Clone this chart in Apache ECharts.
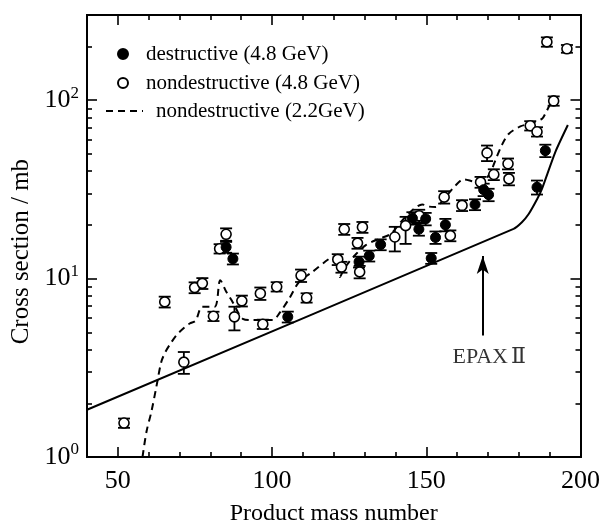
<!DOCTYPE html>
<html><head><meta charset="utf-8">
<script src="https://cdn.jsdelivr.net/npm/echarts@6/dist/echarts.min.js"></script>
<style>html,body{margin:0;padding:0;background:#fff}#c{width:603px;height:531px}</style>
</head><body><div id="c"></div>
<script>
// ---- axis ticks ----
const xMajorTicks = [50, 100, 150, 200];
const xMinorTicks = [60, 70, 80, 90, 110, 120, 130, 140, 160, 170, 180, 190];
const yMajorTicks = [1, 10, 100];
const yMinorTicks = [2, 3, 4, 5, 6, 7, 8, 9, 20, 30, 40, 50, 60, 70, 80, 90, 200, 300];

// ---- nondestructive (4.8 GeV), open circles ----
const ndMass  = [52, 65.2, 71.4, 74.9, 77.4, 81.0, 83.0, 85.1, 87.8, 90.2, 96.2, 97.0, 101.5, 109.4, 111.2, 121.3, 122.5, 123.4, 127.7, 128.4, 129.3, 139.8, 143.3, 147.7, 155.8, 157.8, 161.6, 167.6, 169.7, 171.9, 176.5, 176.8, 183.7, 185.9, 189.1, 191.3, 195.6];
const ndSigma = [1.55, 7.4, 3.4, 8.9, 9.4, 6.15, 14.7, 17.7, 6.1, 7.5, 8.25, 5.55, 9.0, 10.4, 7.8, 12.8, 11.6, 18.9, 15.8, 10.9, 19.4, 17.1, 19.8, 22.5, 28.6, 17.4, 25.7, 34.7, 50.6, 38.3, 44.0, 36.2, 71.9, 66.5, 212, 99, 194];
const ndErrUp = [6, 7, 14, 7, 7, 6, 6, 8, 14, 7, 8, 6, 6, 8, 6, 7, 7, 7, 7, 8, 7, 14, 12, 8, 8, 7, 7, 7, 10, 7, 7, 8, 6, 6, 6, 6, 5];
const ndErrDn = [6, 7, 14, 7, 7, 6, 6, 8, 16, 7, 8, 6, 6, 8, 6, 7, 7, 7, 7, 8, 7, 17, 21, 8, 8, 7, 7, 7, 10, 7, 7, 8, 6, 6, 6, 6, 5];

// ---- destructive (4.8 GeV), filled circles ----
const deMass  = [85.1, 87.3, 105.1, 128.2, 131.5, 135.2, 145.5, 147.6, 149.8, 151.6, 153.0, 156.2, 165.8, 168.6, 170.2, 185.9, 188.6];
const deSigma = [15.0, 12.9, 6.1, 12.4, 13.4, 15.5, 21.8, 18.9, 21.6, 13.0, 17.0, 20.0, 26.0, 31.5, 29.5, 32.5, 52.1];
const deErrUp = [7, 7, 7, 7, 7, 7, 8, 8, 8, 7, 8, 8, 7, 8, 8, 9, 8];
const deErrDn = [7, 7, 7, 7, 7, 7, 8, 8, 8, 7, 8, 8, 7, 8, 8, 9, 8];

// ---- nondestructive (2.2 GeV), dashed curve ----
const nd22Mass  = [58.0, 59.3, 60.9, 62.5, 64.1, 65.5, 67.0, 69.0, 71.5, 73.3, 75.2, 77.4, 81.4, 83.2, 85.2, 87.2, 88.9, 90.5, 93.7, 100.2, 102.4, 105.6, 108.8, 113.1, 118.5, 120.6, 121.5, 122.0, 123.2, 125.0, 127.0, 130.4, 134.7, 138.5, 142.0, 146.0, 148.7, 151.0, 153.0, 156.2, 159.5, 162.2, 165.4, 168.1, 170.8, 172.4, 174.5, 176.7, 180.5, 183.2, 187.5, 188.6, 190.2, 191.3];
const nd22Sigma = [1.0, 1.39, 1.8, 2.48, 3.42, 3.9, 4.3, 4.82, 5.3, 5.6, 5.8, 6.95, 6.95, 9.8, 8.4, 7.4, 6.5, 5.95, 5.85, 5.85, 6.4, 7.75, 9.6, 10.9, 12.9, 13.3, 12.2, 10.2, 11.2, 12.4, 13.6, 15.4, 16.7, 17.8, 21.0, 24.6, 26.0, 25.3, 25.2, 28.6, 33.3, 36.0, 35.0, 34.7, 39.5, 46.0, 56.0, 64.6, 71.3, 73.5, 78.5, 84.0, 95.0, 100];

// ---- EPAX II, solid curve ----
const epaxMass  = [40, 178.3, 181.0, 183.2, 186.0, 187.5, 191.8, 195.9];
const epaxSigma = [1.84, 19.0, 20.7, 23.0, 28.0, 31.8, 51.0, 72.5];

// ---- annotation ----
const arrowMass = 168.3, arrowFrom = 4.8, arrowTo = 13.4;
const epaxLabelMass = 170.4, epaxLabelSigma = 3.62;

const FONT = 'Liberation Serif';
const pair = (a, b) => a.map((v, i) => [v, b[i]]);
const errData = (m, s, up, dn) => m.map((v, i) => [v, s[i] * (1 - dn[i] / 100), s[i] * (1 + up[i] / 100)]);

function errRender(params, api) {
  const x = api.value(0);
  const pLo = api.coord([x, api.value(1)]);
  const pHi = api.coord([x, api.value(2)]);
  const hw = 6;
  const style = { stroke: '#000', lineWidth: 1.8 };
  return { type: 'group', children: [
    { type: 'line', shape: { x1: pLo[0], y1: pLo[1], x2: pHi[0], y2: pHi[1] }, style },
    { type: 'line', shape: { x1: pLo[0] - hw, y1: pLo[1], x2: pLo[0] + hw, y2: pLo[1] }, style },
    { type: 'line', shape: { x1: pHi[0] - hw, y1: pHi[1], x2: pHi[0] + hw, y2: pHi[1] }, style }
  ]};
}

const lineBlack = { show: true, onZero: false, lineStyle: { color: '#000', width: 2 } };
function xAx(pos, ticks, len, labels) {
  return {
    type: 'value', position: pos, min: 40, max: 200, gridIndex: 0,
    axisLine: lineBlack, splitLine: { show: false },
    axisTick: { show: true, inside: true, length: len, customValues: ticks, lineStyle: { color: '#000', width: 1.6 } },
    axisLabel: labels ? { show: true, customValues: xMajorTicks, fontFamily: FONT, fontSize: 26, color: '#000', margin: 11 } : { show: false },
    name: labels ? 'Product mass number' : '', nameLocation: 'middle', nameGap: 45,
    nameTextStyle: { fontFamily: FONT, fontSize: 24, color: '#000' }
  };
}
function yAx(pos, ticks, len, labels) {
  return {
    type: 'log', position: pos, min: 1, max: 300, logBase: 10, gridIndex: 0,
    axisLine: lineBlack, splitLine: { show: false },
    axisTick: { show: true, inside: true, length: len, customValues: ticks, lineStyle: { color: '#000', width: 1.6 } },
    axisLabel: labels ? {
      show: true, customValues: yMajorTicks, margin: 8,
      formatter: v => '{b|10}{s|' + Math.round(Math.log10(v)) + '}',
      rich: { b: { fontFamily: FONT, fontSize: 26, color: '#000' }, s: { fontFamily: FONT, fontSize: 17, color: '#000', padding: [0, 0, 14, 0] } }
    } : { show: false },
    name: labels ? 'Cross section / mb\u00a0\u00a0\u00a0\u00a0\u00a0' : '', nameLocation: 'middle', nameGap: 45,
    nameTextStyle: { fontFamily: FONT, fontSize: 25, color: '#000' }
  };
}

const legendText = { fontFamily: FONT, fontSize: 21, color: '#000', lineHeight: 22 };
const option = {
  backgroundColor: '#fff',
  animation: false,
  grid: { left: 87, right: 21, top: 15, bottom: 72, containLabel: false },
  xAxis: [xAx('bottom', xMajorTicks, 10, true), xAx('bottom', xMinorTicks, 5, false), xAx('top', xMajorTicks, 10, false), xAx('top', xMinorTicks, 5, false)],
  yAxis: [yAx('left', yMajorTicks, 10, true), yAx('left', yMinorTicks, 5, false), yAx('right', yMajorTicks, 10, false), yAx('right', yMinorTicks, 5, false)],
  legend: [
    { data: ['destructive (4.8 GeV)'], left: 112, top: 38, itemWidth: 36, itemHeight: 10, textStyle: legendText, selectedMode: false },
    { data: ['nondestructive (4.8 GeV)'], left: 112, top: 67, itemWidth: 36, itemHeight: 10, textStyle: legendText, selectedMode: false },
    { data: ['nondestructive (2.2GeV)'], left: 100, top: 95, itemWidth: 37, itemHeight: 10, itemStyle: { opacity: 0 },
      textStyle: Object.assign({ padding: [0, 0, 0, 8] }, legendText), selectedMode: false }
  ],
  series: [
    { name: 'EPAX II', type: 'line', data: pair(epaxMass, epaxSigma), symbol: 'none', smooth: 0.2,
      lineStyle: { color: '#000', width: 2 }, z: 2,
      markLine: { silent: true, symbol: ['none', 'arrow'], symbolSize: [9, 18],
        lineStyle: { color: '#000', width: 2, type: 'solid' }, label: { show: false },
        data: [[{ coord: [arrowMass, arrowFrom] }, { coord: [arrowMass, arrowTo] }]] } },
    { name: 'EPAX label', type: 'scatter', data: [[epaxLabelMass, epaxLabelSigma]], symbolSize: 0, silent: true,
      label: { show: true, position: 'inside', formatter: '{a|EPAX}{b|Ⅱ}',
        rich: { a: { fontFamily: FONT, fontSize: 22, color: '#000' }, b: { fontFamily: 'DejaVu Serif', fontSize: 22, color: '#000', padding: [0, 0, 0, 3] } } } },
    { name: 'nondestructive (2.2GeV)', type: 'line', data: pair(nd22Mass, nd22Sigma), symbol: 'none', smooth: 0.3,
      lineStyle: { color: '#000', width: 2, type: [7, 5] }, itemStyle: { color: '#000' }, z: 2 },
    { name: 'err nd', type: 'custom', renderItem: errRender, data: errData(ndMass, ndSigma, ndErrUp, ndErrDn), encode: { x: 0, y: [1, 2] }, z: 3, silent: true },
    { name: 'err de', type: 'custom', renderItem: errRender, data: errData(deMass, deSigma, deErrUp, deErrDn), encode: { x: 0, y: [1, 2] }, z: 3, silent: true },
    { name: 'nondestructive (4.8 GeV)', type: 'scatter', data: pair(ndMass, ndSigma), symbol: 'circle', symbolSize: 10,
      itemStyle: { color: '#fff', borderColor: '#000', borderWidth: 1.6, opacity: 1 }, z: 4 },
    { name: 'destructive (4.8 GeV)', type: 'scatter', data: pair(deMass, deSigma), symbol: 'circle', symbolSize: 10,
      itemStyle: { color: '#000', borderColor: '#000', borderWidth: 1, opacity: 1 }, z: 5 }
  ]
};
const chart = echarts.init(document.getElementById('c'), null, { renderer: 'canvas' });
chart.setOption(option);
</script></body></html>
